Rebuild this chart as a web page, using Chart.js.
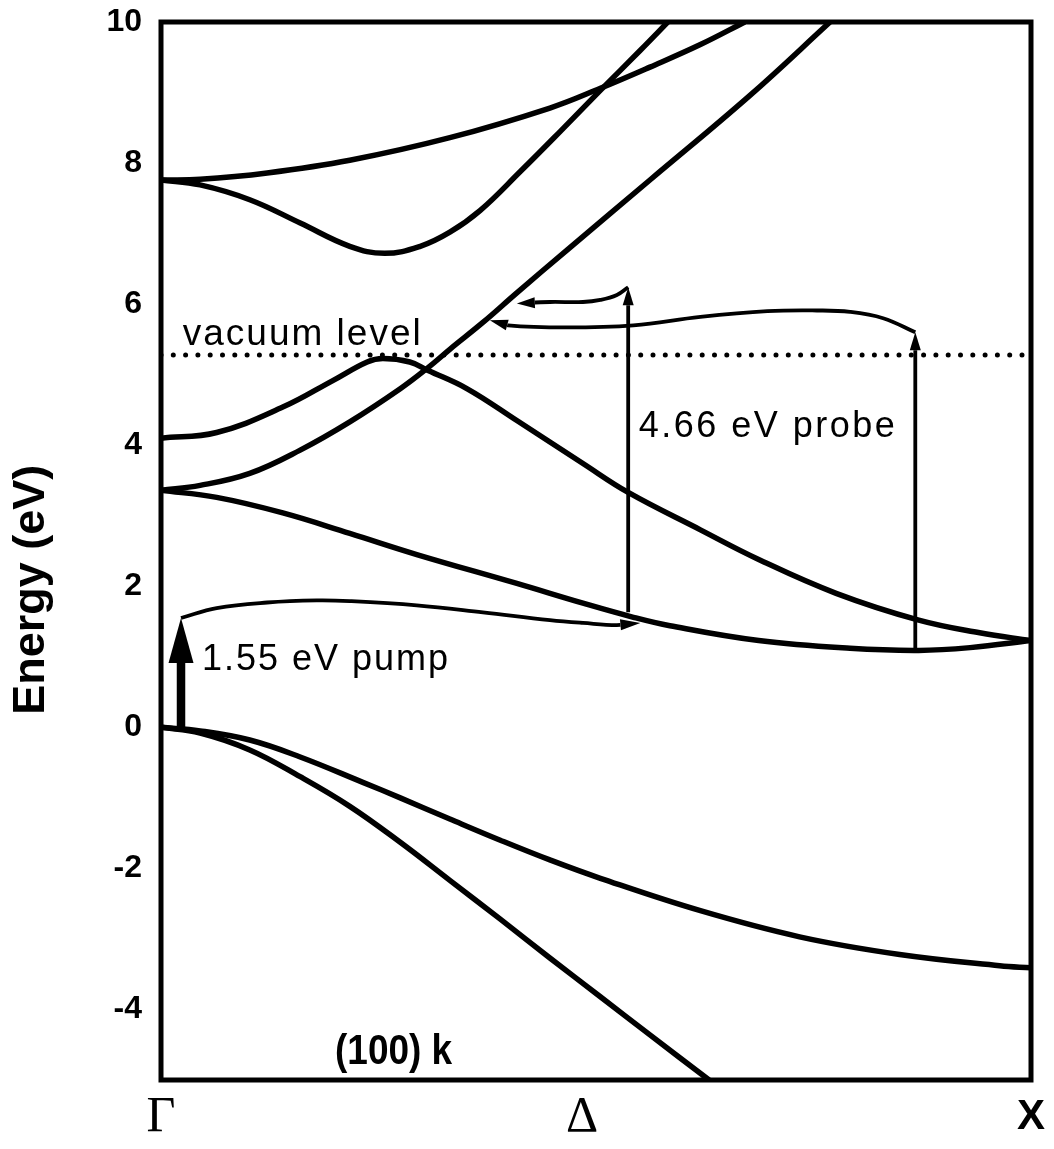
<!DOCTYPE html>
<html>
<head>
<meta charset="utf-8">
<script src="https://cdn.jsdelivr.net/npm/chart.js@4.4.1/dist/chart.umd.min.js"></script>
<style>
  html, body { margin: 0; padding: 0; background: #fff; }
</style>
</head>
<body>
<canvas id="bands" width="1054" height="1149"></canvas>
<script>
// ------- AXES (k along (100): 0 = Gamma, 1 = X; energy in eV) -------
const kTicks = [0, 0.484, 1];
const kTickLabels = ["Γ", "Δ", "X"];
const energyTicks = [-4, -2, 0, 2, 4, 6, 8, 10];

// ------- CONDUCTION BANDS -------
const band1aK = [0, 0.045, 0.122, 0.217, 0.332, 0.447, 0.505, 0.562, 0.620, 0.671];
const band1aE = [7.76, 7.77, 7.86, 8.04, 8.36, 8.78, 9.06, 9.36, 9.68, 10.0];

const band1bK = [0, 0.045, 0.102, 0.160, 0.217, 0.257, 0.298, 0.332, 0.367, 0.413, 0.459, 0.505, 0.551, 0.585];
const band1bE = [7.76, 7.69, 7.48, 7.15, 6.82, 6.72, 6.82, 7.02, 7.33, 7.88, 8.45, 9.03, 9.60, 10.03];

const band2K = [0, 0.064, 0.140, 0.198, 0.237, 0.255, 0.286, 0.307, 0.352, 0.409, 0.485, 0.537, 0.620, 0.687, 0.776, 0.871, 0.941, 1];
const band2E = [4.10, 4.18, 4.54, 4.92, 5.18, 5.23, 5.18, 5.06, 4.80, 4.35, 3.74, 3.33, 2.80, 2.38, 1.90, 1.52, 1.34, 1.23];

const band3K = [0, 0.045, 0.102, 0.160, 0.217, 0.275, 0.307, 0.332, 0.370, 0.409, 0.467, 0.562, 0.677, 0.769];
const band3E = [3.36, 3.43, 3.60, 3.93, 4.33, 4.80, 5.10, 5.36, 5.74, 6.16, 6.77, 7.76, 8.96, 10.0];

const band4K = [0, 0.064, 0.140, 0.217, 0.294, 0.409, 0.485, 0.543, 0.585, 0.687, 0.792, 0.871, 0.930, 1];
const band4E = [3.36, 3.26, 3.04, 2.75, 2.45, 2.04, 1.76, 1.56, 1.44, 1.23, 1.12, 1.09, 1.13, 1.23];

// ------- VALENCE BANDS -------
const valUpK = [0, 0.045, 0.102, 0.160, 0.232, 0.275, 0.332, 0.390, 0.447, 0.505, 0.620, 0.734, 0.849, 0.964, 1];
const valUpE = [0, -0.05, -0.18, -0.42, -0.78, -1.00, -1.30, -1.60, -1.88, -2.14, -2.60, -2.97, -3.22, -3.38, -3.41];

const valLowK = [0, 0.045, 0.102, 0.160, 0.217, 0.275, 0.332, 0.390, 0.447, 0.505, 0.562, 0.630];
const valLowE = [0, -0.08, -0.32, -0.70, -1.12, -1.63, -2.17, -2.72, -3.27, -3.82, -4.36, -5.0];

// ------- VACUUM LEVEL -------
const vacuumK = [0, 1];
const vacuumE = [5.28, 5.28];

// ------- PUMP / PROBE TRANSITIONS -------
const pumpK = [0.023, 0.023];
const pumpE = [0, 1.55];
const pumpPathK = [0.023, 0.064, 0.122, 0.179, 0.217, 0.294, 0.370, 0.447, 0.485, 0.524, 0.551];
const pumpPathE = [1.55, 1.69, 1.77, 1.80, 1.79, 1.73, 1.63, 1.52, 1.48, 1.45, 1.48];

const probe1K = [0.537, 0.537];
const probe1E = [1.63, 6.24];
const probe1PathK = [0.409, 0.447, 0.485, 0.505, 0.524, 0.537];
const probe1PathE = [6.01, 6.03, 6.03, 6.06, 6.13, 6.24];

const probe2K = [0.867, 0.867];
const probe2E = [1.09, 5.60];
const probe2PathK = [0.378, 0.399, 0.466, 0.543, 0.620, 0.697, 0.754, 0.792, 0.830, 0.867];
const probe2PathE = [5.77, 5.70, 5.67, 5.70, 5.82, 5.90, 5.91, 5.89, 5.80, 5.60];

// ------- HELPERS -------
function pts(ks, es) {
    return ks.map((k, i) => ({ x: k, y: es[i] }));
}

const SANS = "'Liberation Sans', Arial, sans-serif";
const SERIF = "'Liberation Serif', 'Times New Roman', serif";

function band(ks, es) {
    return { data: pts(ks, es), borderColor: "#000", borderWidth: 5.5, tension: 0.4 };
}

function arrowLine(ks, es, at, len, half, width) {
    return {
        data: pts(ks, es), borderColor: "#000", borderWidth: width, tension: 0.4,
        arrow: at, headLen: len, headHalf: half, borderCapStyle: "butt"
    };
}

// text notes placed in data units (k, energy at baseline)
const notes = [
    { text: "vacuum level", k: 0.025, e: 5.42, font: "normal 37px " + SANS, spacing: "2px", squeeze: 1 },
    { text: "4.66 eV probe", k: 0.549, e: 4.11, font: "normal 36px " + SANS, spacing: "2.5px", squeeze: 1 },
    { text: "1.55 eV pump", k: 0.047, e: 0.81, font: "normal 36px " + SANS, spacing: "2px", squeeze: 1 },
    { text: "(100) k", k: 0.200, e: -4.78, font: "bold 43px " + SANS, spacing: "0px", squeeze: 0.86 }
];

function headGeom(chart, index) {
    const ds = chart.data.datasets[index];
    const el = chart.getDatasetMeta(index).data;
    const n = el.length;
    const tip = ds.arrow === "end" ? el[n - 1] : el[0];
    const prev = ds.arrow === "end" ? el[n - 2] : el[1];
    let dx = tip.x - prev.x, dy = tip.y - prev.y;
    const d = Math.hypot(dx, dy) || 1;
    return { tx: tip.x, ty: tip.y, ux: dx / d, uy: dy / d, len: ds.headLen, half: ds.headHalf };
}

// ------- ARROW HEADS -------
const arrowHeads = {
    id: "arrowHeads",
    beforeDatasetDraw(chart, args) {
        const ds = chart.data.datasets[args.index];
        if (!ds.arrow) return;
        const g = headGeom(chart, args.index);
        const ctx = chart.ctx;
        const w = g.half + 4;
        const bx = g.tx - g.ux * g.len, by = g.ty - g.uy * g.len;
        const fx = g.tx + g.ux * 6, fy = g.ty + g.uy * 6;
        ctx.save();
        ctx.beginPath();
        ctx.rect(0, 0, chart.width, chart.height);
        ctx.moveTo(bx - g.uy * w, by + g.ux * w);
        ctx.lineTo(fx - g.uy * w, fy + g.ux * w);
        ctx.lineTo(fx + g.uy * w, fy - g.ux * w);
        ctx.lineTo(bx + g.uy * w, by - g.ux * w);
        ctx.closePath();
        ctx.clip("evenodd");
    },
    afterDatasetDraw(chart, args) {
        const ds = chart.data.datasets[args.index];
        if (!ds.arrow) return;
        const ctx = chart.ctx;
        ctx.restore();
        const g = headGeom(chart, args.index);
        const bx = g.tx - g.ux * g.len, by = g.ty - g.uy * g.len;
        ctx.save();
        ctx.fillStyle = "#000";
        ctx.beginPath();
        ctx.moveTo(g.tx, g.ty);
        ctx.lineTo(bx - g.uy * g.half, by + g.ux * g.half);
        ctx.lineTo(bx + g.uy * g.half, by - g.ux * g.half);
        ctx.closePath();
        ctx.fill();
        ctx.restore();
    }
};

// ------- FRAME, NOTES, Y TITLE -------
const frameAndText = {
    id: "frameAndText",
    afterDatasetsDraw(chart) {
        const ctx = chart.ctx;
        const a = chart.chartArea;
        const xs = chart.scales.x, ys = chart.scales.y;
        ctx.save();
        ctx.strokeStyle = "#000";
        ctx.lineWidth = 5;
        ctx.strokeRect(a.left, a.top, a.right - a.left, a.bottom - a.top);

        ctx.fillStyle = "#000";
        ctx.textBaseline = "alphabetic";
        ctx.textAlign = "left";
        notes.forEach(n => {
            ctx.save();
            ctx.font = n.font;
            ctx.letterSpacing = n.spacing;
            ctx.translate(xs.getPixelForValue(n.k), ys.getPixelForValue(n.e));
            ctx.scale(n.squeeze, 1);
            ctx.fillText(n.text, 0, 0);
            ctx.restore();
        });

        ctx.translate(32, ys.getPixelForValue(1.95));
        ctx.rotate(-Math.PI / 2);
        ctx.textAlign = "center";
        ctx.textBaseline = "middle";
        ctx.font = "bold 45px " + SANS;
        ctx.fillText("Energy (eV)", 0, 0);
        ctx.restore();
    }
};

// ------- CHART -------
const ctx = document.getElementById("bands").getContext("2d");

new Chart(ctx, {
    type: "scatter",
    data: {
        datasets: [
            arrowLine(pumpK, pumpE, "end", 45, 12.5, 8.5),
            arrowLine(pumpPathK, pumpPathE, "end", 20, 5.5, 3.8),
            arrowLine(probe1K, probe1E, "end", 18, 5.5, 3.8),
            arrowLine(probe1PathK, probe1PathE, "start", 18, 5.5, 3.8),
            arrowLine(probe2K, probe2E, "end", 18, 5.5, 3.8),
            arrowLine(probe2PathK, probe2PathE, "start", 18, 5.5, 3.8),
            band(band1aK, band1aE),
            band(band1bK, band1bE),
            band(band2K, band2E),
            band(band3K, band3E),
            band(band4K, band4E),
            band(valUpK, valUpE),
            band(valLowK, valLowE),
            {
                data: pts(vacuumK, vacuumE), borderColor: "#000", borderWidth: 5,
                borderDash: [0, 12.3], borderCapStyle: "round", tension: 0
            }
        ]
    },
    options: {
        responsive: false,
        animation: false,
        showLine: true,
        layout: { padding: { top: 22, right: 23, left: 0, bottom: 0 } },
        elements: { point: { radius: 0, hoverRadius: 0 } },
        plugins: { legend: { display: false }, tooltip: { enabled: false } },
        scales: {
            x: {
                type: "linear", min: 0, max: 1,
                grid: { display: false, drawTicks: false },
                border: { display: false },
                afterBuildTicks: axis => { axis.ticks = kTicks.map(v => ({ value: v })); },
                afterFit: axis => {
                    axis.height = 69;
                    axis.paddingLeft = 0;
                    axis.paddingRight = 0;
                },
                ticks: {
                    padding: 10,
                    color: "#000",
                    maxRotation: 0,
                    autoSkip: false,
                    callback: (v, i) => kTickLabels[i],
                    font: c => c.index === 2
                        ? { family: SANS, size: 42, weight: "bold", lineHeight: "54px" }
                        : { family: SERIF, size: 50, weight: "normal", lineHeight: "56px" }
                }
            },
            y: {
                type: "linear", min: -5, max: 10,
                grid: { display: false, drawTicks: false },
                border: { display: false },
                afterBuildTicks: axis => { axis.ticks = energyTicks.map(v => ({ value: v })); },
                afterFit: axis => {
                    axis.width = 161;
                    axis.paddingTop = 0;
                    axis.paddingBottom = 0;
                },
                ticks: {
                    padding: 19,
                    color: "#000",
                    font: { family: SANS, size: 32, weight: "bold" }
                }
            }
        }
    },
    plugins: [arrowHeads, frameAndText]
});
</script>
</body>
</html>
